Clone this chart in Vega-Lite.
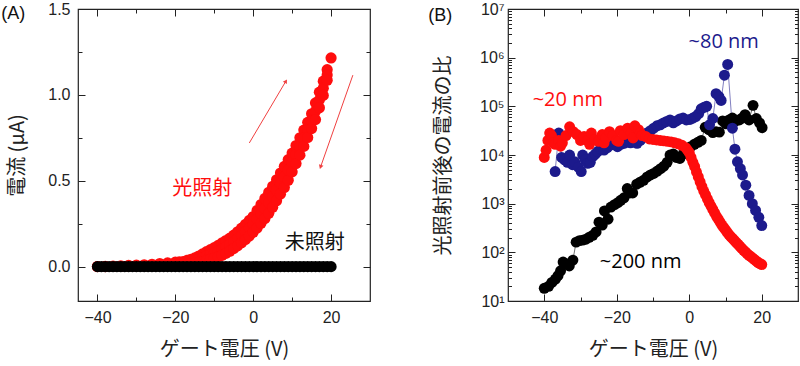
{
  "$schema": "https://vega.github.io/schema/vega-lite/v6.json",
  "background": "white",
  "padding": {"left": 0, "top": 0, "right": 0, "bottom": 0},
  "spacing": 55,
  "config": {
    "view": {"stroke": "#222", "strokeWidth": 1.2},
    "axis": {"domain": false, "grid": false, "tickColor": "#222", "tickWidth": 1, "labelFont": "Liberation Sans", "labelFontSize": 16, "labelColor": "#222", "titleFont": "Noto Sans CJK JP", "titleFontSize": 20, "titleFontWeight": "normal", "titleColor": "#222"}
  },
  "datasets": {
    "aRed": [
      {"V":-40,"I":0.001},{"V":-38,"I":0.002},{"V":-36,"I":0.003},{"V":-34,"I":0.005},{"V":-32,"I":0.007},{"V":-30,"I":0.009},{"V":-28,"I":0.011},{"V":-26,"I":0.014},{"V":-24,"I":0.018},{"V":-22,"I":0.022},{"V":-20,"I":0.026},{"V":-19,"I":0.028},{"V":-18,"I":0.030},{"V":-17,"I":0.036},{"V":-16,"I":0.043},{"V":-15,"I":0.051},{"V":-14,"I":0.062},{"V":-13,"I":0.074},{"V":-12,"I":0.087},{"V":-11,"I":0.099},{"V":-10,"I":0.111},{"V":-9,"I":0.124},{"V":-8,"I":0.138},{"V":-7,"I":0.152},{"V":-6,"I":0.166},{"V":-5,"I":0.183},{"V":-4,"I":0.203},{"V":-3,"I":0.224},{"V":-2,"I":0.246},{"V":-1,"I":0.269},{"V":0,"I":0.292},{"V":1,"I":0.327},{"V":2,"I":0.362},{"V":3,"I":0.397},{"V":4,"I":0.433},{"V":5,"I":0.468},{"V":6,"I":0.506},{"V":7,"I":0.545},{"V":8,"I":0.584},{"V":9,"I":0.623},{"V":10,"I":0.661},{"V":11,"I":0.705},{"V":12,"I":0.750},{"V":13,"I":0.795},{"V":14,"I":0.840},{"V":15,"I":0.890},{"V":16,"I":0.953},{"V":17,"I":1.016},{"V":18,"I":1.080},{"V":19,"I":1.147},{"V":20,"I":1.215},
      {"V":-20,"I":0.017},{"V":-19,"I":0.019},{"V":-18,"I":0.021},{"V":-17,"I":0.026},{"V":-16,"I":0.031},{"V":-15,"I":0.036},{"V":-14,"I":0.044},{"V":-13,"I":0.052},{"V":-12,"I":0.062},{"V":-11,"I":0.071},{"V":-10,"I":0.080},{"V":-9,"I":0.091},{"V":-8,"I":0.102},{"V":-7,"I":0.115},{"V":-6,"I":0.128},{"V":-5,"I":0.144},{"V":-4,"I":0.162},{"V":-3,"I":0.182},{"V":-2,"I":0.202},{"V":-1,"I":0.224},{"V":0,"I":0.246},{"V":1,"I":0.276},{"V":2,"I":0.307},{"V":3,"I":0.339},{"V":4,"I":0.372},{"V":5,"I":0.407},{"V":6,"I":0.445},{"V":7,"I":0.484},{"V":8,"I":0.523},{"V":9,"I":0.563},{"V":10,"I":0.607},{"V":11,"I":0.653},{"V":12,"I":0.700},{"V":13,"I":0.748},{"V":14,"I":0.796},{"V":15,"I":0.847},{"V":16,"I":0.905},{"V":17,"I":0.971},{"V":18,"I":1.039},{"V":19,"I":1.116},
      {"V":-40,"I":0},{"V":-38,"I":0},{"V":-36,"I":0.001},{"V":-34,"I":0.001},{"V":-32,"I":0.002},{"V":-30,"I":0.002},{"V":-28,"I":0.003},{"V":-26,"I":0.004},{"V":-24,"I":0.005},{"V":-22,"I":0.006},{"V":-20,"I":0.008},{"V":-19,"I":0.010},{"V":-18,"I":0.012},{"V":-17,"I":0.015},{"V":-16,"I":0.018},{"V":-15,"I":0.021},{"V":-14,"I":0.025},{"V":-13,"I":0.030},{"V":-12,"I":0.036},{"V":-11,"I":0.042},{"V":-10,"I":0.049},{"V":-9,"I":0.057},{"V":-8,"I":0.066},{"V":-7,"I":0.077},{"V":-6,"I":0.090},{"V":-5,"I":0.105},{"V":-4,"I":0.121},{"V":-3,"I":0.139},{"V":-2,"I":0.158},{"V":-1,"I":0.178},{"V":0,"I":0.200},{"V":1,"I":0.225},{"V":2,"I":0.252},{"V":3,"I":0.280},{"V":4,"I":0.311},{"V":5,"I":0.346},{"V":6,"I":0.384},{"V":7,"I":0.422},{"V":8,"I":0.461},{"V":9,"I":0.503},{"V":10,"I":0.552},{"V":11,"I":0.600},{"V":12,"I":0.649},{"V":13,"I":0.700},{"V":14,"I":0.752},{"V":15,"I":0.804},{"V":16,"I":0.856},{"V":17,"I":0.925},{"V":18,"I":0.997},{"V":19,"I":1.085}
    ],
    "aBlack": [
      {"V":-40,"I":0},{"V":-39,"I":0},{"V":-38,"I":0},{"V":-37,"I":0},{"V":-36,"I":0},{"V":-35,"I":0},{"V":-34,"I":0},{"V":-33,"I":0},{"V":-32,"I":0},{"V":-31,"I":0},{"V":-30,"I":0},{"V":-29,"I":0},{"V":-28,"I":0},{"V":-27,"I":0},{"V":-26,"I":0},{"V":-25,"I":0},{"V":-24,"I":0},{"V":-23,"I":0},{"V":-22,"I":0},{"V":-21,"I":0},{"V":-20,"I":0},{"V":-19,"I":0},{"V":-18,"I":0},{"V":-17,"I":0},{"V":-16,"I":0},{"V":-15,"I":0},{"V":-14,"I":0},{"V":-13,"I":0},{"V":-12,"I":0},{"V":-11,"I":0},{"V":-10,"I":0},{"V":-9,"I":0},{"V":-8,"I":0},{"V":-7,"I":0},{"V":-6,"I":0},{"V":-5,"I":0},{"V":-4,"I":0},{"V":-3,"I":0},{"V":-2,"I":0},{"V":-1,"I":0},{"V":0,"I":0},{"V":1,"I":0},{"V":2,"I":0},{"V":3,"I":0},{"V":4,"I":0},{"V":5,"I":0},{"V":6,"I":0},{"V":7,"I":0},{"V":8,"I":0},{"V":9,"I":0},{"V":10,"I":0},{"V":11,"I":0},{"V":12,"I":0},{"V":13,"I":0},{"V":14,"I":0},{"V":15,"I":0},{"V":16,"I":0},{"V":17,"I":0},{"V":18,"I":0},{"V":19,"I":0},{"V":20,"I":0}
    ],
    "aArrows": [
      {"V":-1.0,"I":0.72,"V2":8.4,"I2":1.08,"dir":"up"},
      {"V":25.6,"I":1.115,"V2":17.3,"I2":0.58,"dir":"down"}
    ],
    "bData": [
      {"s":"200","V":-40,"R":18.2},{"s":"200","V":-38.8,"R":20.0},{"s":"200","V":-37.9,"R":24.0},{"s":"200","V":-36.9,"R":28.2},{"s":"200","V":-36.2,"R":33.1},{"s":"200","V":-35.5,"R":41.7},{"s":"200","V":-34.8,"R":63.1},{"s":"200","V":-33.9,"R":57.5},{"s":"200","V":-33.1,"R":52.5},{"s":"200","V":-32.1,"R":69.2},{"s":"200","V":-31.2,"R":162},{"s":"200","V":-30.3,"R":174},{"s":"200","V":-29.4,"R":178},{"s":"200","V":-28.5,"R":186},{"s":"200","V":-27.6,"R":204},{"s":"200","V":-26.6,"R":224},{"s":"200","V":-25.7,"R":263},{"s":"200","V":-24.9,"R":417},{"s":"200","V":-24.0,"R":363},{"s":"200","V":-23.4,"R":708},{"s":"200","V":-22.4,"R":479},{"s":"200","V":-21.6,"R":851},{"s":"200","V":-20.6,"R":955},{"s":"200","V":-19.7,"R":1047},{"s":"200","V":-18.9,"R":1175},{"s":"200","V":-18.0,"R":1318},{"s":"200","V":-17.1,"R":2042},{"s":"200","V":-16.4,"R":1660},{"s":"200","V":-15.6,"R":1660},{"s":"200","V":-14.5,"R":2512},{"s":"200","V":-13.6,"R":2754},{"s":"200","V":-12.6,"R":3020},{"s":"200","V":-11.6,"R":3548},{"s":"200","V":-10.7,"R":3890},{"s":"200","V":-9.8,"R":4169},{"s":"200","V":-8.8,"R":4677},{"s":"200","V":-7.9,"R":5248},{"s":"200","V":-7.0,"R":5888},{"s":"200","V":-6.1,"R":7079},{"s":"200","V":-5.3,"R":10000},{"s":"200","V":-4.4,"R":10471},{"s":"200","V":-3.6,"R":8913},{"s":"200","V":-2.6,"R":8511},{"s":"200","V":-1.7,"R":10471},{"s":"200","V":-0.7,"R":12023},{"s":"200","V":0.4,"R":14791},{"s":"200","V":1.4,"R":16596},{"s":"200","V":2.4,"R":18197},{"s":"200","V":3.3,"R":19953},{"s":"200","V":4.4,"R":37154},{"s":"200","V":5.4,"R":33113},{"s":"200","V":6.5,"R":28840},{"s":"200","V":7.4,"R":30200},{"s":"200","V":8.3,"R":29512},{"s":"200","V":9.2,"R":50119},{"s":"200","V":10.1,"R":43652},{"s":"200","V":11.0,"R":52481},{"s":"200","V":11.9,"R":57544},{"s":"200","V":12.8,"R":50119},{"s":"200","V":13.8,"R":52481},{"s":"200","V":14.6,"R":57544},{"s":"200","V":15.4,"R":67608},{"s":"200","V":16.5,"R":52481},{"s":"200","V":17.6,"R":104713},{"s":"200","V":18.5,"R":56234},{"s":"200","V":19.4,"R":45709},{"s":"200","V":20.1,"R":36308},
      {"s":"80","V":-37,"R":4571},{"s":"80","V":-36,"R":28184},{"s":"80","V":-35.2,"R":8913},{"s":"80","V":-34.4,"R":7943},{"s":"80","V":-33.6,"R":7079},{"s":"80","V":-33,"R":10000},{"s":"80","V":-32.2,"R":6310},{"s":"80","V":-31.6,"R":7244},{"s":"80","V":-30.6,"R":5623},{"s":"80","V":-29.8,"R":4571},{"s":"80","V":-29.4,"R":10000},{"s":"80","V":-28.7,"R":7943},{"s":"80","V":-28,"R":6761},{"s":"80","V":-27.3,"R":7079},{"s":"80","V":-26.6,"R":9333},{"s":"80","V":-25.9,"R":10471},{"s":"80","V":-25.3,"R":11749},{"s":"80","V":-24.4,"R":13183},{"s":"80","V":-23.5,"R":12589},{"s":"80","V":-22.6,"R":14125},{"s":"80","V":-21.6,"R":16218},{"s":"80","V":-20.7,"R":19055},{"s":"80","V":-19.8,"R":14791},{"s":"80","V":-18.9,"R":16596},{"s":"80","V":-18,"R":17378},{"s":"80","V":-17,"R":19953},{"s":"80","V":-16.2,"R":17783},{"s":"80","V":-15.7,"R":19055},{"s":"80","V":-14.8,"R":22387},{"s":"80","V":-14.4,"R":17378},{"s":"80","V":-13.5,"R":19953},{"s":"80","V":-12.6,"R":23988},{"s":"80","V":-11.7,"R":28184},{"s":"80","V":-10.7,"R":31623},{"s":"80","V":-9.8,"R":35481},{"s":"80","V":-8.9,"R":39811},{"s":"80","V":-8,"R":41687},{"s":"80","V":-7.1,"R":45709},{"s":"80","V":-6.2,"R":48978},{"s":"80","V":-5.3,"R":52481},{"s":"80","V":-4.4,"R":45709},{"s":"80","V":-3.5,"R":50119},{"s":"80","V":-2.6,"R":54954},{"s":"80","V":-1.7,"R":57544},{"s":"80","V":-0.8,"R":52481},{"s":"80","V":0.2,"R":53703},{"s":"80","V":1,"R":57544},{"s":"80","V":1.8,"R":61660},{"s":"80","V":2.6,"R":70795},{"s":"80","V":3.3,"R":89125},{"s":"80","V":4.1,"R":95499},{"s":"80","V":4.8,"R":100000},{"s":"80","V":5.6,"R":41687},{"s":"80","V":6.5,"R":56234},{"s":"80","V":7.4,"R":181970},{"s":"80","V":8.2,"R":158489},{"s":"80","V":8.8,"R":131826},{"s":"80","V":9.7,"R":436516},{"s":"80","V":10.6,"R":724436},{"s":"80","V":11.9,"R":35481},{"s":"80","V":12.6,"R":13183},{"s":"80","V":13.3,"R":7244},{"s":"80","V":14.1,"R":5248},{"s":"80","V":14.7,"R":3890},{"s":"80","V":15.6,"R":2399},{"s":"80","V":16.5,"R":1479},{"s":"80","V":17.4,"R":1000},{"s":"80","V":18.3,"R":724},{"s":"80","V":19.2,"R":525},{"s":"80","V":20,"R":355},
      {"s":"20","V":-40,"R":8913},{"s":"20","V":-39.5,"R":12589},{"s":"20","V":-39,"R":19953},{"s":"20","V":-38.5,"R":28184},{"s":"20","V":-38,"R":25119},{"s":"20","V":-37.5,"R":17783},{"s":"20","V":-37,"R":16596},{"s":"20","V":-36,"R":19953},{"s":"20","V":-35.5,"R":15136},{"s":"20","V":-35,"R":17783},{"s":"20","V":-34,"R":25119},{"s":"20","V":-33,"R":38019},{"s":"20","V":-32,"R":30200},{"s":"20","V":-31,"R":26303},{"s":"20","V":-30,"R":19953},{"s":"20","V":-29,"R":23988},{"s":"20","V":-28,"R":19953},{"s":"20","V":-27.5,"R":16596},{"s":"20","V":-27,"R":28184},{"s":"20","V":-26,"R":20893},{"s":"20","V":-25,"R":19055},{"s":"20","V":-24,"R":26303},{"s":"20","V":-23.5,"R":17783},{"s":"20","V":-23,"R":22387},{"s":"20","V":-22,"R":30200},{"s":"20","V":-21,"R":25119},{"s":"20","V":-20,"R":19953},{"s":"20","V":-19.5,"R":19055},{"s":"20","V":-19,"R":31623},{"s":"20","V":-18,"R":26303},{"s":"20","V":-17,"R":35481},{"s":"20","V":-16,"R":28184},{"s":"20","V":-15.5,"R":22387},{"s":"20","V":-15,"R":39811},{"s":"20","V":-14,"R":33113},{"s":"20","V":-13.5,"R":28184},{"s":"20","V":-13,"R":25119},{"s":"20","V":-12,"R":23988},{"s":"20","V":-11,"R":21380},{"s":"20","V":-10,"R":20893},{"s":"20","V":-9,"R":20417},{"s":"20","V":-8,"R":19953},{"s":"20","V":-7,"R":19498},{"s":"20","V":-6,"R":19055},{"s":"20","V":-5,"R":18621},{"s":"20","V":-4,"R":17783},{"s":"20","V":-3,"R":16982},{"s":"20","V":-2,"R":15849},{"s":"20","V":-1,"R":14125},{"s":"20","V":-0.5,"R":12589},{"s":"20","V":0,"R":11220},{"s":"20","V":0.5,"R":8913},{"s":"20","V":1,"R":7079},{"s":"20","V":1.5,"R":5754},{"s":"20","V":2,"R":4467},{"s":"20","V":2.5,"R":3548},{"s":"20","V":3,"R":2818},{"s":"20","V":3.5,"R":2239},{"s":"20","V":4,"R":1820},{"s":"20","V":4.5,"R":1514},{"s":"20","V":5,"R":1259},{"s":"20","V":5.5,"R":1047},{"s":"20","V":6,"R":891},{"s":"20","V":6.5,"R":759},{"s":"20","V":7,"R":646},{"s":"20","V":7.5,"R":550},{"s":"20","V":8,"R":479},{"s":"20","V":8.5,"R":417},{"s":"20","V":9,"R":363},{"s":"20","V":9.5,"R":324},{"s":"20","V":10,"R":288},{"s":"20","V":10.5,"R":257},{"s":"20","V":11,"R":229},{"s":"20","V":11.5,"R":209},{"s":"20","V":12,"R":191},{"s":"20","V":12.5,"R":174},{"s":"20","V":13,"R":158},{"s":"20","V":13.5,"R":145},{"s":"20","V":14,"R":132},{"s":"20","V":14.5,"R":120},{"s":"20","V":15,"R":110},{"s":"20","V":15.5,"R":102},{"s":"20","V":16,"R":93.3},{"s":"20","V":16.5,"R":87.1},{"s":"20","V":17,"R":81.3},{"s":"20","V":17.5,"R":75.9},{"s":"20","V":18,"R":70.8},{"s":"20","V":18.5,"R":66.1},{"s":"20","V":19,"R":61.7},{"s":"20","V":19.5,"R":58.9},{"s":"20","V":20,"R":56.2}
    ],
    "bText": [
      {"s":"80","t":"~80 nm","V":9.5,"R":2100000},
      {"s":"20","t":"~20 nm","V":-33.5,"R":138000},
      {"s":"200","t":"~200 nm","V":-13.4,"R":62}
    ]
  },
  "hconcat": [
    {
      "width": 292,
      "height": 292,
      "layer": [
        {
          "data": {"name": "aRed"},
          "mark": {"type": "point", "filled": true, "size": 125, "opacity": 1, "color": "#ff0d0d"},
          "encoding": {
            "x": {"field": "V", "type": "quantitative", "scale": {"domain": [-45, 30], "nice": false, "zero": false},
              "axis": {"orient": "bottom", "values": [-40,-30,-20,-10,0,10,20], "labelExpr": "datum.value % 20 === 0 ? datum.label : ''", "tickSize": {"condition": {"test": "datum.value % 20 === 0", "value": -7}, "value": -4}, "labelPadding": 15, "title": "ゲート電圧 (V)", "titlePadding": 14}},
            "y": {"field": "I", "type": "quantitative", "scale": {"domain": [-0.2, 1.5], "nice": false, "zero": false},
              "axis": {"orient": "left", "values": [0,0.25,0.5,0.75,1,1.25,1.5], "format": ".1f", "labelExpr": "datum.value % 0.5 === 0 ? datum.label : ''", "tickSize": {"condition": {"test": "datum.value % 0.5 === 0", "value": -7}, "value": -4}, "labelPadding": 15, "title": "電流 (μA)", "titlePadding": 20}}
          }
        },
        {
          "data": {"name": "aBlack"},
          "mark": {"type": "point", "filled": true, "size": 125, "opacity": 1, "color": "#000000"},
          "encoding": {
            "x": {"field": "V", "type": "quantitative",
              "axis": {"orient": "top", "values": [-40,-30,-20,-10,0,10,20], "labels": false, "title": null, "tickSize": {"condition": {"test": "datum.value % 20 === 0", "value": -7}, "value": -4}}},
            "y": {"field": "I", "type": "quantitative",
              "axis": {"orient": "right", "values": [0,0.25,0.5,0.75,1,1.25,1.5], "labels": false, "title": null, "tickSize": {"condition": {"test": "datum.value % 0.5 === 0", "value": -7}, "value": -4}}}
          }
        },
        {
          "data": {"name": "aArrows"},
          "mark": {"type": "rule", "color": "#f04040", "strokeWidth": 1},
          "encoding": {
            "x": {"field": "V", "type": "quantitative", "axis": null},
            "y": {"field": "I", "type": "quantitative", "axis": null},
            "x2": {"field": "V2"},
            "y2": {"field": "I2"}
          }
        },
        {
          "data": {"name": "aArrows"},
          "transform": [{"filter": "datum.dir === 'up'"}],
          "mark": {"type": "point", "shape": "triangle-up", "filled": true, "size": 22, "angle": 31, "color": "#f04040", "opacity": 1},
          "encoding": {
            "x": {"field": "V2", "type": "quantitative", "axis": null},
            "y": {"field": "I2", "type": "quantitative", "axis": null}
          }
        },
        {
          "data": {"name": "aArrows"},
          "transform": [{"filter": "datum.dir === 'down'"}],
          "mark": {"type": "point", "shape": "triangle-up", "filled": true, "size": 22, "angle": 199, "color": "#f04040", "opacity": 1},
          "encoding": {
            "x": {"field": "V2", "type": "quantitative", "axis": null},
            "y": {"field": "I2", "type": "quantitative", "axis": null}
          }
        },
        {
          "data": {"values": [{"t": "光照射", "V": -13.1, "I": 0.45}]},
          "mark": {"type": "text", "font": "Noto Sans CJK JP", "fontSize": 20, "color": "#ff0d0d", "align": "center", "baseline": "middle"},
          "encoding": {
            "x": {"field": "V", "type": "quantitative", "axis": null},
            "y": {"field": "I", "type": "quantitative", "axis": null},
            "text": {"field": "t"}
          }
        },
        {
          "data": {"values": [{"t": "未照射", "V": 15.8, "I": 0.135}]},
          "mark": {"type": "text", "font": "Noto Sans CJK JP", "fontSize": 20, "color": "#111111", "align": "center", "baseline": "middle"},
          "encoding": {
            "x": {"field": "V", "type": "quantitative", "axis": null},
            "y": {"field": "I", "type": "quantitative", "axis": null},
            "text": {"field": "t"}
          }
        },
        {
          "data": {"values": [{"t": "(A)", "V": -64.7, "I": 1.47}]},
          "mark": {"type": "text", "font": "Liberation Sans", "fontSize": 18, "color": "#111111", "align": "left", "baseline": "middle"},
          "encoding": {
            "x": {"field": "V", "type": "quantitative", "axis": null},
            "y": {"field": "I", "type": "quantitative", "axis": null},
            "text": {"field": "t"}
          }
        }
      ]
    },
    {
      "width": 290,
      "height": 292,
      "layer": [
        {
          "data": {"name": "bData"},
          "mark": {"type": "line", "strokeWidth": 0.8, "opacity": 0.7},
          "encoding": {
            "x": {"field": "V", "type": "quantitative", "scale": {"domain": [-50, 30], "nice": false, "zero": false},
              "axis": {"orient": "bottom", "values": [-40,-30,-20,-10,0,10,20], "labelExpr": "datum.value % 20 === 0 ? datum.label : ''", "tickSize": {"condition": {"test": "datum.value % 20 === 0", "value": -7}, "value": -4}, "labelPadding": 15, "title": "ゲート電圧 (V)", "titlePadding": 14}},
            "y": {"field": "R", "type": "quantitative", "scale": {"type": "log", "domain": [10, 10000000], "nice": false},
              "axis": {"orient": "left", "values": [10,20,30,40,50,60,70,80,90,100,200,300,400,500,600,700,800,900,1000,2000,3000,4000,5000,6000,7000,8000,9000,10000,20000,30000,40000,50000,60000,70000,80000,90000,100000,200000,300000,400000,500000,600000,700000,800000,900000,1000000,2000000,3000000,4000000,5000000,6000000,7000000,8000000,9000000,10000000],
                "labelExpr": "abs(log(datum.value)/LN10 - round(log(datum.value)/LN10)) < 0.001 ? '10' + ['⁰','¹','²','³','⁴','⁵','⁶','⁷'][round(log(datum.value)/LN10)] : ''",
                "tickSize": {"condition": {"test": "abs(log(datum.value)/LN10 - round(log(datum.value)/LN10)) < 0.001", "value": -7}, "value": -3.5}, "labelPadding": 11, "title": "光照射前後の電流の比", "titlePadding": 26}},
            "color": {"field": "s", "type": "nominal", "scale": {"domain": ["200", "80", "20"], "range": ["#000000", "#1c1a8c", "#ff0d0d"]}, "legend": null},
            "detail": {"field": "s"},
            "order": {"field": "V", "type": "quantitative"}
          }
        },
        {
          "data": {"name": "bData"},
          "mark": {"type": "point", "filled": true, "size": 120, "opacity": 1},
          "encoding": {
            "x": {"field": "V", "type": "quantitative",
              "axis": {"orient": "top", "values": [-40,-30,-20,-10,0,10,20], "labels": false, "title": null, "tickSize": {"condition": {"test": "datum.value % 20 === 0", "value": -7}, "value": -4}}},
            "y": {"field": "R", "type": "quantitative",
              "axis": {"orient": "right", "values": [10,20,30,40,50,60,70,80,90,100,200,300,400,500,600,700,800,900,1000,2000,3000,4000,5000,6000,7000,8000,9000,10000,20000,30000,40000,50000,60000,70000,80000,90000,100000,200000,300000,400000,500000,600000,700000,800000,900000,1000000,2000000,3000000,4000000,5000000,6000000,7000000,8000000,9000000,10000000], "labels": false, "title": null,
                "tickSize": {"condition": {"test": "abs(log(datum.value)/LN10 - round(log(datum.value)/LN10)) < 0.001", "value": -7}, "value": -3.5}}},
            "color": {"field": "s", "type": "nominal", "legend": null}
          }
        },
        {
          "data": {"name": "bText"},
          "mark": {"type": "text", "font": "Open Sans", "fontSize": 20, "align": "center", "baseline": "middle"},
          "encoding": {
            "x": {"field": "V", "type": "quantitative", "axis": null},
            "y": {"field": "R", "type": "quantitative", "axis": null},
            "text": {"field": "t"},
            "color": {"field": "s", "type": "nominal", "legend": null}
          }
        },
        {
          "data": {"values": [{"t": "(B)", "V": -72, "R": 7160000}]},
          "mark": {"type": "text", "font": "Liberation Sans", "fontSize": 18, "color": "#111111", "align": "left", "baseline": "middle"},
          "encoding": {
            "x": {"field": "V", "type": "quantitative", "axis": null},
            "y": {"field": "R", "type": "quantitative", "axis": null},
            "text": {"field": "t"}
          }
        }
      ]
    }
  ]
}
